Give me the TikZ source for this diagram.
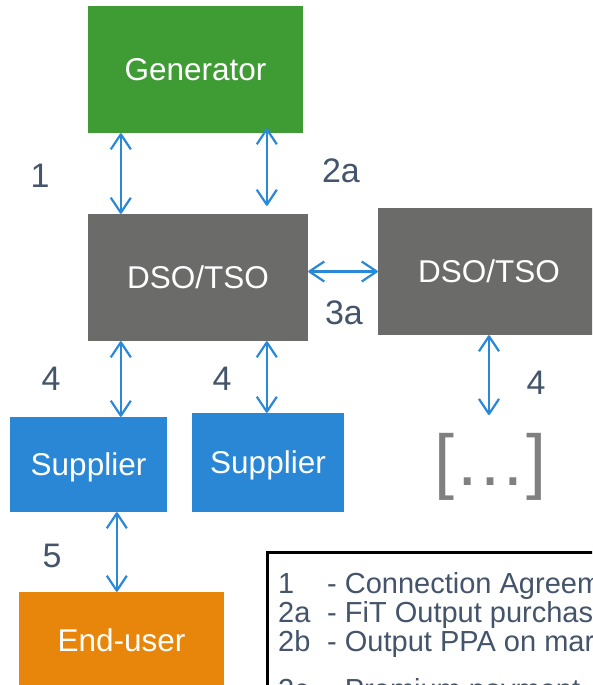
\documentclass[tikz,border=0pt]{standalone}
\usepackage{fontspec}
\setmainfont{Liberation Sans}
\usetikzlibrary{arrows.meta}
\definecolor{cgreen}{HTML}{3F9C35}
\definecolor{cgray}{HTML}{6B6C6A}
\definecolor{cblue}{HTML}{2A87D6}
\definecolor{corange}{HTML}{E8860C}
\definecolor{carrow}{HTML}{2A88D8}
\definecolor{ctext}{HTML}{44546A}
\definecolor{cbrk}{HTML}{808080}
\begin{document}
\begin{tikzpicture}[x=1pt,y=-1pt,
  box/.style={draw=none, inner sep=0pt, text=white, font=\fontsize{31.5}{36}\selectfont, text height=22.6pt, text depth=0pt, align=center},
  lbl/.style={inner sep=0pt, text=ctext, font=\fontsize{34}{40}\selectfont, text height=24.3pt, text depth=0pt},
  leg/.style={inner sep=0pt, text=ctext, font=\fontsize{29}{32}\selectfont, anchor=base west},
  arr/.style={draw=carrow, line width=2.2pt, line join=round, {Straight Barb[length=15pt,width=20pt,line join=round]}-{Straight Barb[length=15pt,width=20pt,line join=round]}}]
\useasboundingbox (0,0) rectangle (592,685);
\clip (0,0) rectangle (592,685);
\fill[white] (0,0) rectangle (592,685);

% boxes
\node[box, fill=cgreen, minimum width=215pt, minimum height=127pt] (gen) at (195.5,69.5) {Generator};
\node[box, fill=cgray, minimum width=220pt, minimum height=127pt] (dso1) at (198,277.5) {DSO/TSO};
\node[box, fill=cgray, minimum width=222pt, minimum height=127pt] (dso2) at (489,271.5) {DSO/TSO};
\node[box, fill=cblue, minimum width=157pt, minimum height=95pt] (sup1) at (88.5,464.5) {Supplier};
\node[box, fill=cblue, minimum width=152pt, minimum height=99pt] (sup2) at (268,462.5) {Supplier};
\node[box, fill=corange, minimum width=205pt, minimum height=96pt] (end) at (121.5,640) {End-user};
\node[inner sep=0pt, text=cbrk, font=\fontsize{72}{80}\selectfont, anchor=base] (more) at (490,485) {[…]};
\coordinate (mtop) at (489,415);

% connectors
\draw[arr] ([xshift=33pt]gen.south west) coordinate (a1) -- (a1 |- dso1.north);
\draw[arr] ([xshift=179pt,yshift=5pt]gen.south west) -- ([xshift=179pt,yshift=8pt]dso1.north west);
\draw[arr] (dso1.east |- dso2.west) -- (dso2.west);
\draw[arr] ([xshift=33pt]dso1.south west) coordinate (a3) -- (a3 |- sup1.north);
\draw[arr] ([xshift=179pt]dso1.south west) coordinate (a4) -- (a4 |- sup2.north);
\draw[arr] (dso2.south) -- (mtop);
\draw[arr] ([xshift=107pt]sup1.south west) coordinate (a5) -- (a5 |- end.north);

% labels
\node[lbl] (l1) at (40,175) {1};
\node[lbl] (l2a) at (341,170) {2a};
\node[lbl] (l3a) at (344,312) {3a};
\node[lbl] (l4a) at (51,378) {4};
\node[lbl] (l4b) at (222,378) {4};
\node[lbl] (l4c) at (536,382) {4};
\node[lbl] (l5) at (52,555) {5};

% legend
\draw[line width=3pt, fill=white] (267.5,552.5) rectangle (720,760);
\node[leg] (n1) at (278,593) {1};
\node[leg] (t1) at (327,593) {- Connection Agreement};
\node[leg] (n2) at (278,622) {2a};
\node[leg] (t2) at (327,622) {- FiT Output purchase};
\node[leg] (n3) at (278,651) {2b};
\node[leg] (t3) at (327,651) {- Output PPA on market};
\node[leg] (n4) at (278,699) {2c};
\node[leg] (t4) at (327,699) {- Premium payment};
\end{tikzpicture}
\end{document}
